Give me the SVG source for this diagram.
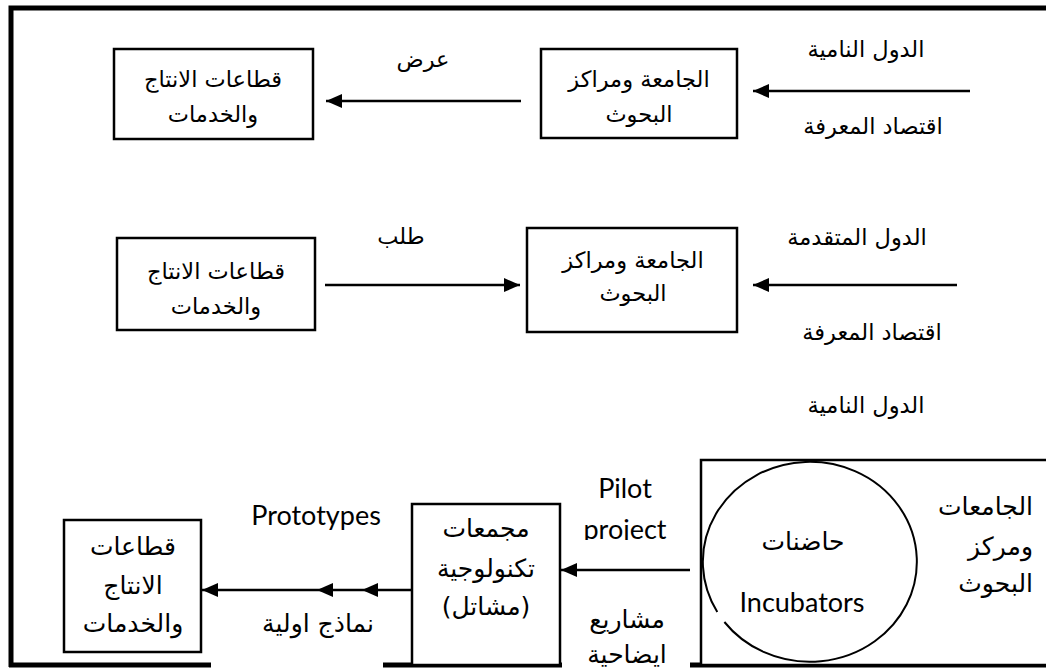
<svg xmlns="http://www.w3.org/2000/svg" width="1046" height="670" viewBox="0 0 1046 670">
<style>
.frame{stroke:#000;stroke-width:5;fill:none}
.box{fill:#fff;stroke:#000;stroke-width:2.5}
.ln{stroke:#000;stroke-width:2.5;fill:none}
.ar{font-family:"DejaVu Sans","Noto Sans",sans-serif;font-size:22.5px;fill:#000;text-anchor:middle}
.ar2{font-family:"DejaVu Sans","Noto Sans",sans-serif;font-size:25px;fill:#000;text-anchor:middle}
.en{font-family:Lato,"Open Sans",sans-serif;font-size:27px;fill:#000;text-anchor:middle}
</style>
<defs>
<marker id="ah" viewBox="0 0 16 14" refX="16" refY="7" markerWidth="16" markerHeight="14" markerUnits="userSpaceOnUse" orient="auto">
<path d="M0,0 L16,7 L0,14 Z" fill="#000"/>
</marker>
<clipPath id="clipProj"><rect x="560" y="500" width="130" height="40"/></clipPath>
</defs>
<rect width="1046" height="670" fill="#fff"/>
<g id="frame">
<path class="frame" d="M11,667 V8 H1046"/>
<path class="frame" d="M9,665 H211 M383,665 H562 M690,665 H1046"/>
</g>
<g id="connectors">
<line class="ln" x1="521" y1="101" x2="326" y2="101" marker-end="url(#ah)"/>
<line class="ln" x1="970" y1="91" x2="753" y2="91" marker-end="url(#ah)"/>
<line class="ln" x1="325" y1="285" x2="520" y2="285" marker-end="url(#ah)"/>
<line class="ln" x1="957" y1="285" x2="753" y2="285" marker-end="url(#ah)"/>
<line class="ln" x1="690" y1="570" x2="561" y2="570" marker-end="url(#ah)"/>
<polyline class="ln" points="412,590 362,590 317,590 202,590" marker-mid="url(#ah)" marker-end="url(#ah)"/>
</g>
<g id="top-industry">
<rect class="box" x="114" y="49" width="199" height="90"/>
<text class="ar" x="213" y="87">قطاعات الانتاج</text>
<text class="ar" x="213" y="122">والخدمات</text>
</g>
<g id="top-university">
<rect class="box" x="541" y="49" width="196" height="89"/>
<text class="ar" x="639" y="87">الجامعة ومراكز</text>
<text class="ar" x="639" y="122">البحوث</text>
</g>
<g id="top-labels">
<text class="ar" x="423" y="67">عرض</text>
<text class="ar" x="866" y="57">الدول النامية</text>
<text class="ar" x="873" y="134">اقتصاد المعرفة</text>
</g>
<g id="mid-industry">
<rect class="box" x="117" y="238" width="198" height="92"/>
<text class="ar" x="216" y="279">قطاعات الانتاج</text>
<text class="ar" x="216" y="314">والخدمات</text>
</g>
<g id="mid-university">
<rect class="box" x="527" y="228" width="210" height="104"/>
<text class="ar" x="633" y="268">الجامعة ومراكز</text>
<text class="ar" x="633" y="301">البحوث</text>
</g>
<g id="mid-labels">
<text class="ar" x="401" y="244">طلب</text>
<text class="ar" x="857" y="245">الدول المتقدمة</text>
<text class="ar" x="872" y="340">اقتصاد المعرفة</text>
<text class="ar" x="866" y="413">الدول النامية</text>
</g>
<g id="universities">
<rect class="box" x="701" y="460" width="350" height="205"/>
<text class="ar2" x="1033" y="515" style="text-anchor:end">الجامعات</text>
<text class="ar2" x="1033" y="555" style="text-anchor:end">ومركز</text>
<text class="ar2" x="1033" y="592" style="text-anchor:end">البحوث</text>
</g>
<g id="incubators">
<path d="M717.3,612 A107,100 0 1 1 724.4,622" fill="none" stroke="#000" stroke-width="2"/>
<text class="ar2" x="803" y="550">حاضنات</text>
<text class="en" x="802" y="612">Incubators</text>
</g>
<g id="clusters">
<rect class="box" x="412" y="504" width="148" height="161"/>
<text class="ar2" x="486" y="537">مجمعات</text>
<text class="ar2" x="486" y="577">تكنولوجية</text>
<text class="ar2" x="486" y="615">(مشاتل)</text>
</g>
<g id="industry-bottom">
<rect class="box" x="64" y="520" width="137" height="132"/>
<text class="ar2" x="133" y="555">قطاعات</text>
<text class="ar2" x="133" y="594">الانتاج</text>
<text class="ar2" x="133" y="632">والخدمات</text>
</g>
<g id="bottom-labels">
<text class="en" x="625" y="498">Pilot</text>
<text class="en" x="625" y="539" clip-path="url(#clipProj)">project</text>
<text class="ar2" x="627" y="628">مشاريع</text>
<text class="ar2" x="627" y="663">ايضاحية</text>
<text class="en" x="316" y="525">Prototypes</text>
<text class="ar2" x="318" y="632">نماذج اولية</text>
</g>
</svg>
